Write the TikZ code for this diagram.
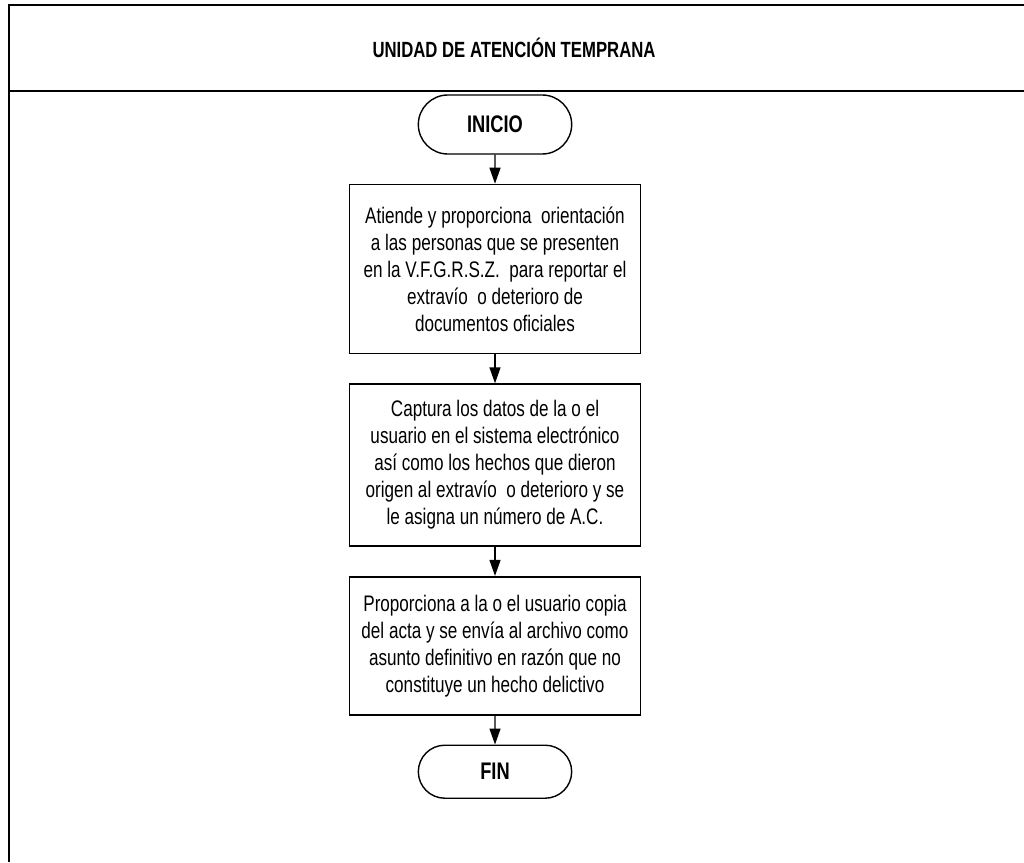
\documentclass[tikz,border=0pt]{standalone}
\usepackage{fontspec}
\setmainfont{Liberation Sans}[FakeStretch=0.76]
\usetikzlibrary{shapes.misc,arrows.meta,positioning}

\begin{document}
\begin{tikzpicture}[x=1pt, y=-1pt,
  node distance=29pt,
  paso/.style={rectangle, draw, line width=1.6pt, minimum width=291pt,
    inner sep=2pt, align=center, font=\fontsize{22.5}{27}\selectfont},
  terminal/.style={rounded rectangle, draw, line width=1.4pt, minimum width=160pt,
    font=\fontsize{24}{28}\selectfont\bfseries},
  arr/.style={-{Triangle[length=16pt,width=11pt]}, line width=1.4pt}]
\useasboundingbox (0,0) rectangle (1024,862);
% marco
\draw[line width=2.5pt] (1024,5) -- (9,5) -- (9,862);
\draw[line width=2.5pt] (9,91) -- (1024,91);
\node[anchor=base, font=\fontsize{22}{26}\selectfont\bfseries] (titulo) at (514,57) {UNIDAD DE ATENCIÓN TEMPRANA};
% diagrama
\node[terminal, minimum height=59pt] (inicio) at (495,124.5) {INICIO};
\node[paso, below=of inicio, minimum height=169pt] (atiende) {Atiende y proporciona\ \ orientación\\a las personas que se presenten\\en la V.F.G.R.S.Z.\ \ para reportar el\\extravío\ \ o deterioro de\\documentos oficiales};
\node[paso, below=of atiende, minimum height=162pt] (captura) {Captura los datos de la o el\\usuario en el sistema electrónico\\así como los hechos que dieron\\origen al extravío\ \ o deterioro y se\\le asigna un número de A.C.};
\node[paso, below=of captura, minimum height=138pt] (copia) {Proporciona a la o el usuario copia\\del acta y se envía al archivo como\\asunto definitivo en razón que no\\constituye un hecho delictivo};
\node[terminal, minimum height=53pt, below=of copia] (fin) {FIN};
\draw[arr] (inicio) -- (atiende);
\draw[arr] (atiende) -- (captura);
\draw[arr] (captura) -- (copia);
\draw[arr] (copia) -- (fin);
\end{tikzpicture}
\end{document}
